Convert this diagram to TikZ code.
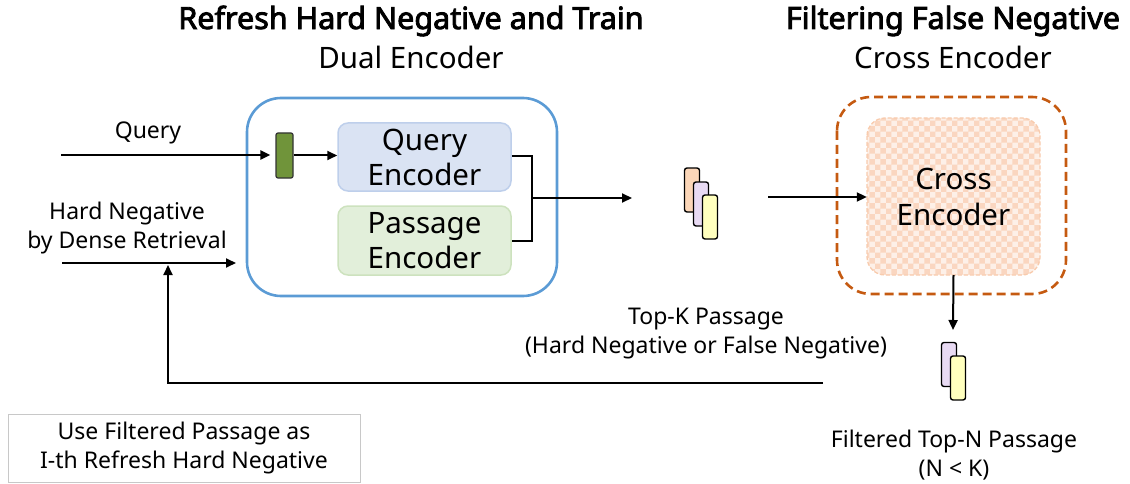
\documentclass[tikz,border=0pt]{standalone}
\usepackage{fontspec}
\setmainfont{Noto Sans}[AutoFakeBold=2.8]
\usetikzlibrary{arrows.meta,patterns}
\definecolor{bluebox}{RGB}{91,155,213}
\definecolor{qfill}{RGB}{218,227,243}
\definecolor{qline}{RGB}{190,207,235}
\definecolor{pfill}{RGB}{226,239,218}
\definecolor{pline}{RGB}{205,226,190}
\definecolor{gsmall}{RGB}{112,148,58}
\definecolor{orangebox}{RGB}{197,90,17}
\definecolor{cfill}{RGB}{253,240,232}
\definecolor{cline}{RGB}{248,203,173}
\definecolor{cpat}{RGB}{250,214,192}
\definecolor{porange}{RGB}{251,214,184}
\definecolor{ppurple}{RGB}{232,218,243}
\definecolor{pyellow}{RGB}{255,255,190}
\definecolor{gbox}{RGB}{200,200,200}
\tikzset{
  arr/.style={-{Triangle[length=10pt,width=9pt]}, line width=2pt},
  ln/.style={line width=2pt},
  enc/.style={rounded corners=10pt, line width=1.5pt, font=\fontsize{29.5}{35}\selectfont, align=center, inner sep=0pt},
  pas/.style={draw=black, line width=1.4pt, rounded corners=2.5pt, minimum width=15pt, minimum height=44pt, inner sep=0pt},
  lbl/.style={font=\fontsize{23}{29}\selectfont, align=center},
  ttl/.style={font=\fontsize{30.5}{32}\selectfont\bfseries},
  sub/.style={font=\fontsize{29.5}{32}\selectfont},
}
\begin{document}
\begin{tikzpicture}[x=1pt,y=-1pt]
\useasboundingbox (0,0) rectangle (1130,484);
% titles
\node[ttl] (t1) at (411,21) {Refresh Hard Negative and Train};
\node[sub] (s1) at (411,57) {Dual Encoder};
\node[ttl] (t2) at (953,21) {Filtering False Negative};
\node[sub] (s2) at (953,57) {Cross Encoder};
% dual encoder box
\draw[bluebox, line width=2.6pt, rounded corners=34pt] (247,98) rectangle (557,296);
\node (dual) at (402,197) [minimum width=310pt, minimum height=198pt] {};
\node[enc, fill=qfill, draw=qline, minimum width=173pt, minimum height=68pt] (qenc) at (424.5,157) {Query\\Encoder};
\node[enc, fill=pfill, draw=pline, minimum width=173pt, minimum height=69pt] (penc) at (424.5,240.5) {Passage\\Encoder};
\node[draw=black!80, fill=gsmall, line width=1.2pt, rounded corners=2pt, minimum width=17pt, minimum height=45pt, inner sep=0pt] (gq) at (284.5,155.5) {};
% inputs
\coordinate (qin) at (61,155);
\coordinate (hin) at (62,263);
\node[lbl] (ql) at (148,133) {Query};
\node[lbl] (hl) at (127,228) {Hard Negative\\by Dense Retrieval};
\draw[arr, shorten >=5pt] (qin) -- (gq.west |- qin);
\draw[arr] (gq.east) -- (qenc.west |- gq.east);
\coordinate (hend) at (236,263);
\draw[arr] (hin) -- (hend);
% bracket
\coordinate (bq) at (532,156);
\coordinate (bp) at (532,241);
\coordinate (bm) at (532,198);
\coordinate (bout) at (632,198);
\draw[ln] (qenc.east |- bq) -- (bq) -- (bp) -- (penc.east |- bp);
\draw[arr] (bm) -- (bout);
% stack 1
\node[pas, fill=porange] (p1a) at (692,190) {};
\node[pas, fill=ppurple] (p1b) at (701,204) {};
\node[pas, fill=pyellow] (p1c) at (710,217) {};
% cross encoder
\draw[orangebox, line width=2.6pt, dash pattern=on 9pt off 5pt, rounded corners=34pt] (837,97) rectangle (1066,294);
\node[minimum width=229pt, minimum height=197pt] (crossbox) at (951.5,195.5) {};
\fill[cfill, rounded corners=18pt] (867,118) rectangle (1040,275);
\fill[pattern=checkerboard, pattern color=cpat, rounded corners=18pt] (867,118) rectangle (1040,275);
\draw[cline, line width=1.3pt, dash pattern=on 4pt off 2pt, rounded corners=18pt] (867,118) rectangle (1040,275);
\node[font=\fontsize{29.5}{36}\selectfont, align=center, minimum width=173pt, minimum height=157pt] (cenc) at (953.5,196.5) {Cross\\Encoder};
\coordinate (cin) at (768,197);
\draw[arr] (cin) -- (cenc.west |- cin);
% output
\coordinate (cdown) at (953,330);
\draw[arr] (cenc.south) -- (cdown);
\node[pas, fill=ppurple] (p2a) at (949,364.5) {};
\node[pas, fill=pyellow] (p2b) at (958,378) {};
\node[lbl] (tk) at (706,334) {Top-K Passage\\(Hard Negative or False Negative)};
\node[lbl] (fl) at (954,455) {Filtered Top-N Passage\\(N < K)};
% feedback
\coordinate (fb0) at (823,383);
\coordinate (fb1) at (168,383);
\coordinate (fb2) at (168,265);
\draw[arr] (fb0) -- (fb1) -- (fb2);
% note box
\node[draw=gbox, line width=1pt, minimum width=352pt, minimum height=68pt, lbl] (note) at (184,448) {Use Filtered Passage as\\I-th Refresh Hard Negative};
\end{tikzpicture}
\end{document}
